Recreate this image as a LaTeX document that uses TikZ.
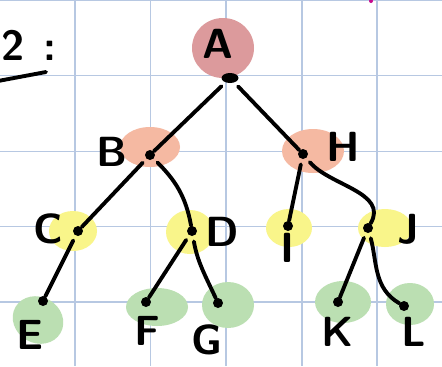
\documentclass[tikz,border=0pt]{standalone}
\usepackage{tikz}
\usetikzlibrary{calc,shapes.geometric}
\definecolor{gridblue}{HTML}{B7C8E2}
\definecolor{rootred}{HTML}{DC9A9C}
\definecolor{midpink}{HTML}{F5B9A2}
\definecolor{lowyellow}{HTML}{F9F58A}
\definecolor{leafgreen}{HTML}{BBDFB2}
\begin{document}
\begin{tikzpicture}[x=0.02cm,y=-0.02cm,
	dotnode/.style={circle,fill=black,inner sep=0pt,minimum size=0.2cm},
	lbl/.style={font=\fontsize{24}{24}\selectfont\sffamily\bfseries},
	ln/.style={line width=2.2pt,line cap=round,shorten <=3pt}]
			%%%%% START %%%%%
			\useasboundingbox (0,0) rectangle (442,366);
			\fill[white] (0,0) rectangle (442,366);
			
			\foreach \gx in {75,150.5,226,302,377}
				\draw[gridblue,line width=0.8pt] (\gx,0) -- (\gx,366);
			\foreach \gy in {0.5,75.7,151.5,226.5,302}
				\draw[gridblue,line width=0.8pt] (0,\gy) -- (442,\gy);
			\fill[magenta!80!blue] (371,1) circle (2);
			
			\node[lbl,anchor=west,inner sep=0pt] (title) at (1,45) {2\hspace{0.38cm}:};
			\draw[line width=2.2pt,line cap=round] (-2,81) -- (46,72);
			
			\fill[rootred] (223,48) ellipse (31 and 30);
			\fill[midpink] (150,147) ellipse (30 and 20);
			\fill[midpink] (313,151) ellipse (31 and 22);
			\fill[lowyellow] (73,231) ellipse (24 and 20);
			\fill[lowyellow] (190,232) ellipse (24 and 22);
			\fill[lowyellow] (289,228) ellipse (23 and 19);
			\fill[lowyellow] (385,228) ellipse (27 and 19);
			\fill[leafgreen, rotate around={-30:(38,320)}] (38,320) ellipse (26 and 23);
			\fill[leafgreen] (157,307) ellipse (31 and 19);
			\fill[leafgreen] (228,305) ellipse (26 and 23);
			\fill[leafgreen] (343,302) ellipse (28 and 21);
			\fill[leafgreen] (410,304) ellipse (24 and 21);
			
			\node[dotnode,ellipse,minimum width=0.34cm,minimum height=0.2cm] (A) at (230,78) {};
			\node[dotnode] (B) at (150,155) {};
			\node[dotnode] (H) at (303,154) {};
			\node[dotnode] (C) at (78,231) {};
			\node[dotnode] (D) at (192,231) {};
			\node[dotnode] (I) at (288,226) {};
			\node[dotnode] (J) at (368,228) {};
			\node[dotnode] (E) at (43,301) {};
			\node[dotnode] (F) at (146,302) {};
			\node[dotnode] (G) at (218,303) {};
			\node[dotnode] (K) at (338,302) {};
			\node[dotnode] (L) at (404,306) {};
			
			\node[lbl] (lA) at (218,44) {A};
			\node[lbl] (lB) at (112,152) {B};
			\node[lbl] (lH) at (343,147) {H};
			\node[lbl] (lC) at (48,229) {C};
			\node[lbl] (lD) at (222,232) {D};
			\node[lbl] (lI) at (287,248) {I};
			\node[lbl] (lJ) at (408,229) {J};
			\node[lbl] (lE) at (30,335) {E};
			\node[lbl] (lF) at (147,331) {F};
			\node[lbl] (lG) at (207,340) {G};
			\node[lbl] (lK) at (338,332) {K};
			\node[lbl] (lL) at (414,332) {L};
			
			\draw[ln] (A) -- (B);
			\draw[ln] (A) -- (H);
			\draw[ln] (B) -- (C);
			\draw[ln] (B) to[out=-45,in=100] (D);
			\draw[ln] (H) -- (I);
			\draw[ln] (H) to[out=-50,in=60] (J);
			\draw[ln] (C) -- (E);
			\draw[ln] (D) -- (F);
			\draw[ln] (D) to[out=-80,in=115] (G);
			\draw[ln] (J) -- (K);
			\draw[ln] (J) to[out=-75,in=150] (L);
			%%%%% END %%%%%
\end{tikzpicture}
\end{document}
